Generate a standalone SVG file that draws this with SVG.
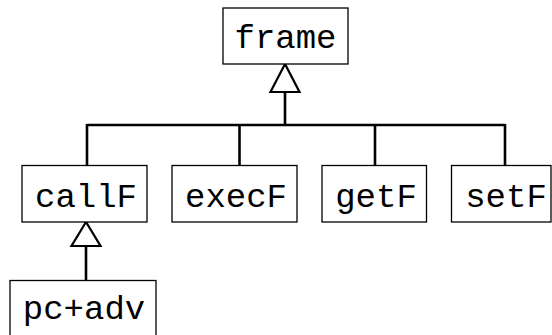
<svg xmlns="http://www.w3.org/2000/svg" width="552" height="335" viewBox="0 0 552 335">
  <style>
    .box { fill: #ffffff; stroke: #000000; stroke-width: 1.3; }
    .lbl { font-family: "Liberation Mono", "DejaVu Sans Mono", monospace; font-size: 34px; fill: #000000; text-anchor: middle; }
    .edge { fill: none; stroke: #000000; stroke-width: 2.6; }
    .head { fill: #ffffff; stroke: #000000; stroke-width: 2.2; stroke-linejoin: miter; }
  </style>
  <rect width="552" height="335" fill="#ffffff"/>
  <g id="connectors">
    <!-- inheritance tree: children of frame -->
    <path class="edge" d="M285,92 V125 M87,125 H505 M87,124 V165.5 M239.5,124 V165.5 M375,124 V165.5 M505,124 V165.5"/>
    <polygon class="head" points="285,64 270.5,92 299.5,92"/>
    <!-- pc+adv inherits callF -->
    <path class="edge" d="M86,246 V280.5"/>
    <polygon class="head" points="86,222 71.5,246 100.5,246"/>
  </g>
  <g id="frame">
    <rect class="box" x="223" y="8" width="125" height="56"/>
    <text class="lbl" x="285.5" y="48">frame</text>
  </g>
  <g id="callF">
    <rect class="box" x="22" y="165.5" width="125" height="56.5"/>
    <text class="lbl" x="86" y="207">callF</text>
  </g>
  <g id="execF">
    <rect class="box" x="172" y="165.5" width="125" height="56.5"/>
    <text class="lbl" x="236" y="207">execF</text>
  </g>
  <g id="getF">
    <rect class="box" x="322" y="165.5" width="104.5" height="56.5"/>
    <text class="lbl" x="376" y="207">getF</text>
  </g>
  <g id="setF">
    <rect class="box" x="451.5" y="165.5" width="99.5" height="56.5"/>
    <text class="lbl" x="506" y="207">setF</text>
  </g>
  <g id="pcadv">
    <rect class="box" x="10" y="280.5" width="146" height="62"/>
    <text class="lbl" x="84" y="319">pc+adv</text>
  </g>
</svg>
